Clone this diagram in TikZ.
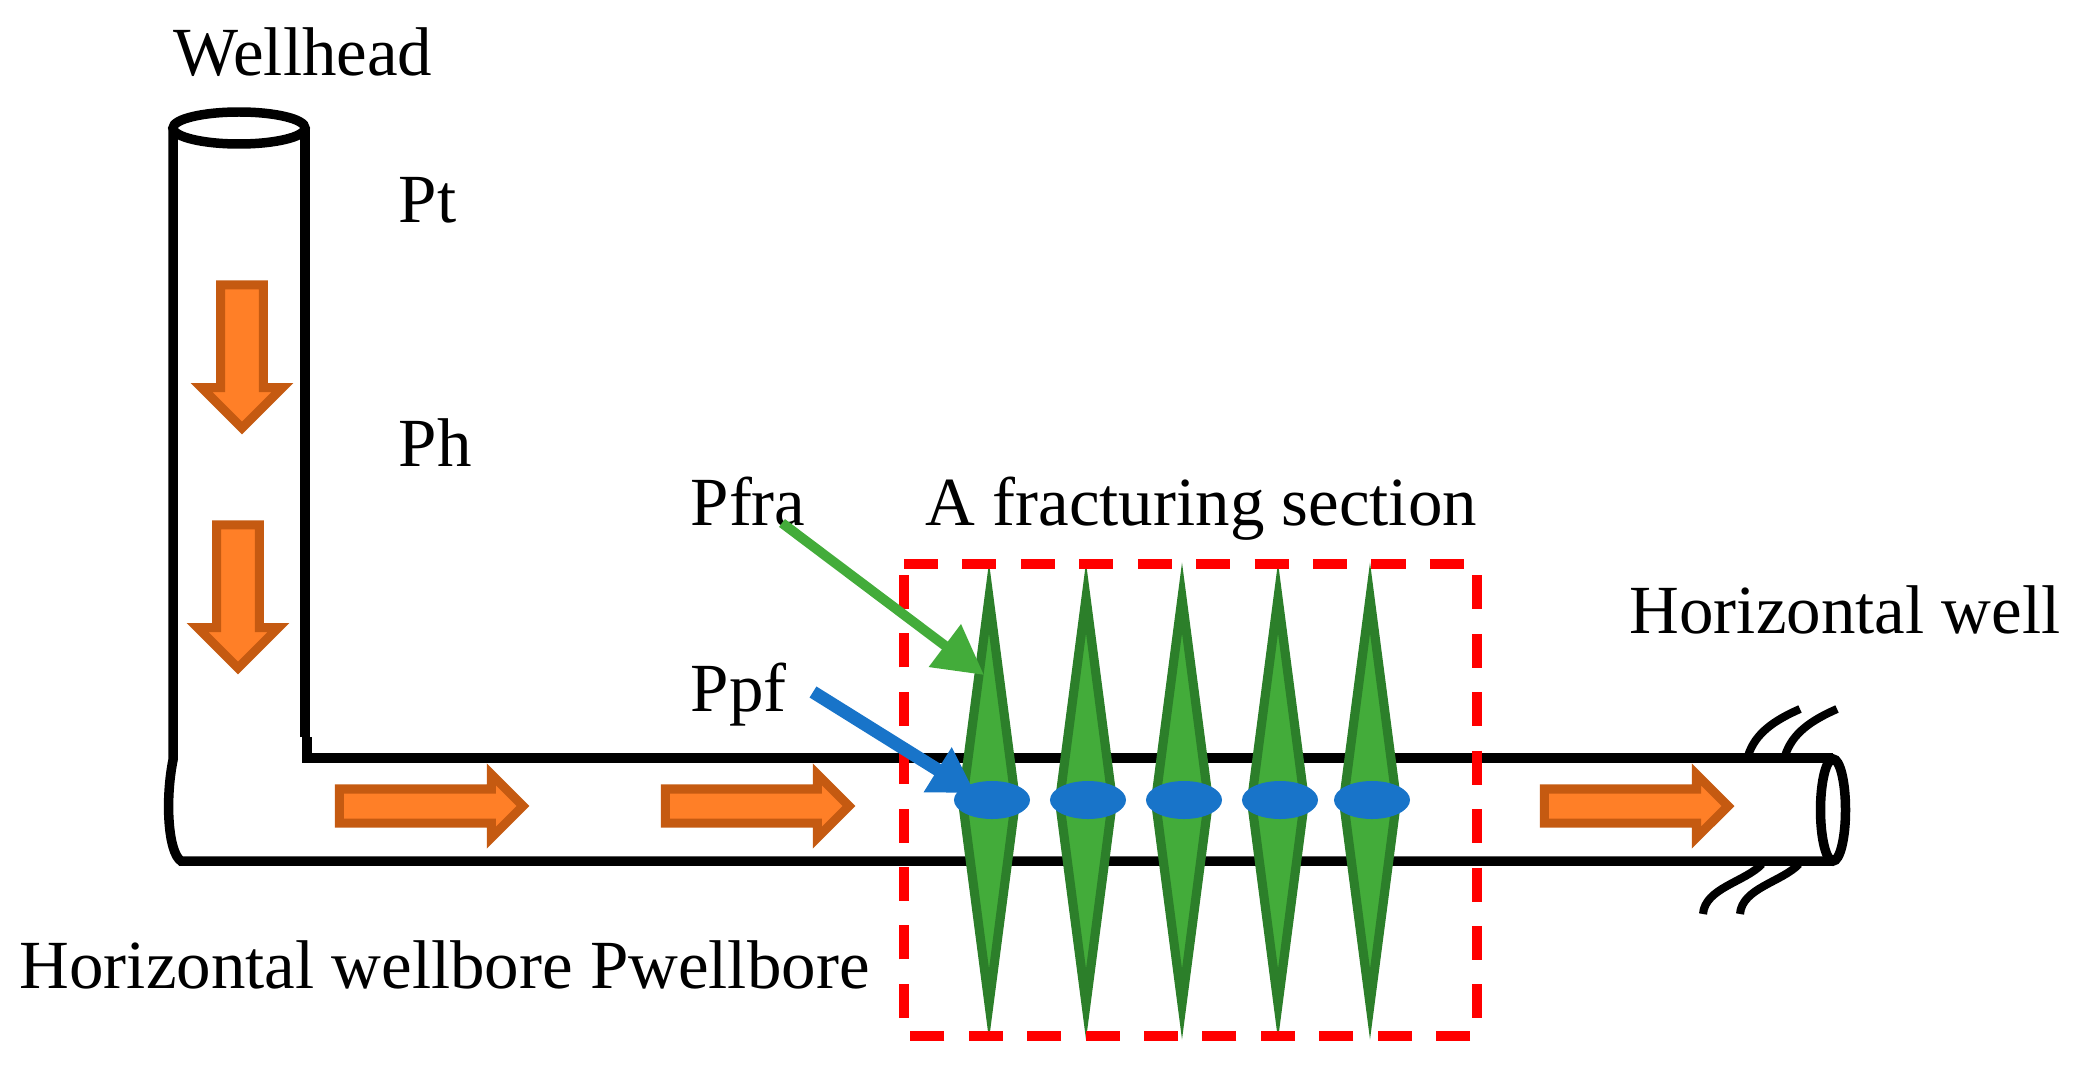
\documentclass[tikz,border=0pt]{standalone}
\usepackage{fontspec}
\setmainfont{Liberation Serif}
\usetikzlibrary{arrows.meta,shapes.arrows,shapes.geometric}

\definecolor{flowfill}{HTML}{FF7F27}
\definecolor{flowedge}{HTML}{C55A11}
\definecolor{fracfill}{HTML}{43AC3A}
\definecolor{fracedge}{HTML}{2C7F2A}
\definecolor{perfblue}{HTML}{1874C9}

\tikzset{
    flow/.style={single arrow,draw=flowedge,fill=flowfill,line width=2.6pt,inner xsep=0pt,
                 inner ysep=.125cm,outer sep=0pt,single arrow head indent=0pt,anchor=tip,
                 minimum height=1.835cm,single arrow head extend=.145cm},
    flowdown/.style={flow,rotate=-90,minimum height=1.43cm,inner ysep=.168cm,
                 single arrow head extend=.19cm},
    fracture/.style={diamond,draw=fracedge,fill=fracfill,line width=2.6pt,miter limit=14,
                 inner sep=0pt,outer sep=0pt,minimum width=.53cm,minimum height=4.06cm},
    perf/.style={ellipse,fill=perfblue,inner sep=0pt,minimum width=.76cm,minimum height=.38cm},
    welltext/.style={anchor=base west,inner sep=0pt,font=\fontsize{19.6}{23}\selectfont},
    pipe/.style={line width=2.7pt},
    wave/.style={line width=2.3pt}
}

\begin{document}
\begin{tikzpicture}[x=.01cm,y=-.01cm]

        \useasboundingbox (0,0) rectangle (2082,1076);

        % wave marks behind the pipe
        \draw[wave] (1800,709) .. controls (1775,720) and (1755,733) .. (1748,756);
        \draw[wave] (1837,709) .. controls (1812,720) and (1792,733) .. (1785,756);
        \draw[wave] (1762,864) .. controls (1745,882) and (1705,888) .. (1703,914);
        \draw[wave] (1799,864) .. controls (1782,882) and (1742,888) .. (1740,914);

        % pipe
        \draw[pipe] (173,128) -- (173,760) .. controls (165,800) and (168,852) .. (181,861) -- (1833,861);
        \draw[pipe] (305,128) -- (305,737);
        \draw[pipe] (307,737) -- (307,758) -- (1833,758);
        \draw[pipe,fill=white] (239,128) ellipse (66 and 16);
        \draw[pipe,fill=white] (1833,810) ellipse (12.5 and 51);

        % flow direction, placed by their tips
        \node[flowdown]         (down1) at (242,428)        {};
        \node[flowdown]         (down2) at (238,668)        {};
        \node[flow]             (flow1) at (523,806)        {};
        \node[flow]             (flow2) at (849,806)        {};
        \node[flow]             (flow3) at (1728,806)       {};

        % fractures
        \node[fracture]         (frac1) at (989,801)        {};
        \node[fracture]         (frac2) at (1086,801)       {};
        \node[fracture]         (frac3) at (1182,801)       {};
        \node[fracture]         (frac4) at (1278,801)       {};
        \node[fracture]         (frac5) at (1370,801)       {};

        \draw[red,line width=2.7pt,dash pattern=on .34cm off .244cm]
            (904,564) -- (1477,564) -- (1477,1036) -- (904,1036) -- cycle;

        \node[perf]             (perf1) at (992,800)        {};
        \node[perf]             (perf2) at (1088,800)       {};
        \node[perf]             (perf3) at (1184,800)       {};
        \node[perf]             (perf4) at (1280,800)       {};
        \node[perf]             (perf5) at (1372,800)       {};

        % labels
        \node[welltext]         (wellhead) at (173,76)      {Wellhead};
        \node[welltext]         (pt)       at (398,222)     {Pt};
        \node[welltext]         (ph)       at (398,466)     {Ph};
        \node[welltext]         (pfra)     at (690,525)     {Pfra};
        \node[welltext]         (ppf)      at (690,711)     {Ppf};
        \node[welltext]         (section)  at (925,525)     {A fracturing section};
        \node[welltext]         (hwell)    at (1629,633)    {Horizontal well};
        \node[welltext]         (hbore)    at (19,988)      {Horizontal wellbore Pwellbore};

        % pressure arrows
        \coordinate (frastart) at (782,523);
        \coordinate (fraend)   at (984,675);
        \coordinate (ppfstart) at (813,692);
        \coordinate (ppfend)   at (975,793);
        \draw[fracfill,line width=2.8pt,-{Triangle[length=.49cm,width=.51cm]}] (frastart) -- (fraend);
        \draw[perfblue,line width=3.7pt,-{Triangle[length=.44cm,width=.50cm]}] (ppfstart) -- (ppfend);

\end{tikzpicture}
\end{document}
